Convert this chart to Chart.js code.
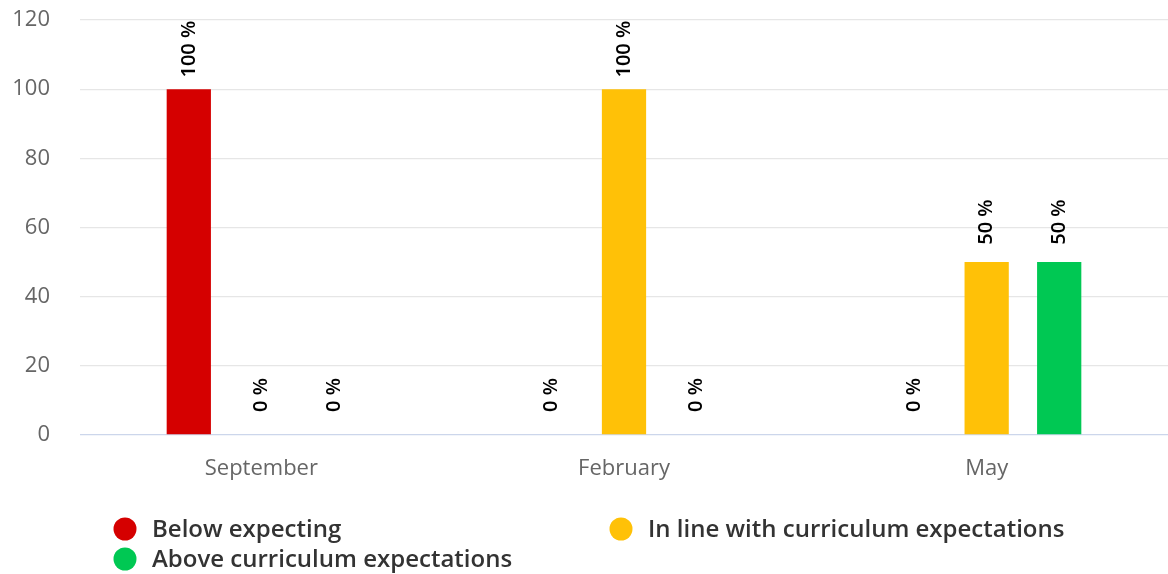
<!DOCTYPE html>
<html>
<head>
<meta charset="utf-8">
<script src="https://cdn.jsdelivr.net/npm/chart.js@4.4.1/dist/chart.umd.min.js"></script>
<style>
  html, body { margin: 0; padding: 0; background: #fff; }
  #wrap { width: 1168px; height: 574px; position: relative; }
</style>
</head>
<body>
<div id="wrap"><canvas id="chart"></canvas></div>
<script>
// chart data
const categories = ["September", "February", "May"];
const seriesNames = ["Below expecting", "In line with curriculum expectations", "Above curriculum expectations"];
const belowValues = [100, 0, 0];
const inLineValues = [0, 100, 50];
const aboveValues = [0, 0, 50];
const yTicks = [0, 20, 40, 60, 80, 100, 120];

const colors = ["#d50000", "#ffc107", "#00c853"];
const FONT = "'Open Sans', 'Noto Sans', sans-serif";

// rotated "NN %" labels above each bar
const barLabels = {
  id: "barLabels",
  afterDatasetsDraw(chart) {
    const ctx = chart.ctx;
    ctx.save();
    ctx.font = "600 20px " + FONT;
    ctx.fillStyle = "#000";
    ctx.textAlign = "center";
    ctx.textBaseline = "middle";
    chart.data.datasets.forEach((ds, i) => {
      chart.getDatasetMeta(i).data.forEach((bar, j) => {
        ctx.save();
        ctx.translate(bar.x, bar.y - 40);
        ctx.rotate(-Math.PI / 2);
        ctx.fillText(ds.data[j] + " %", 0, 0);
        ctx.restore();
      });
    });
    ctx.restore();
  }
};

// two column legend under the plot
const gridLegend = {
  id: "gridLegend",
  afterDraw(chart) {
    const ctx = chart.ctx;
    const spots = [[125, 529], [621, 529], [125, 559]];
    ctx.save();
    ctx.font = "600 24px " + FONT;
    ctx.textBaseline = "middle";
    chart.data.datasets.forEach((ds, i) => {
      const [x, y] = spots[i];
      ctx.fillStyle = ds.backgroundColor;
      ctx.beginPath();
      ctx.arc(x, y, 11.5, 0, Math.PI * 2);
      ctx.fill();
      ctx.fillStyle = "#333";
      ctx.fillText(ds.label, x + 27, y + 1);
    });
    ctx.restore();
  }
};

new Chart(document.getElementById("chart"), {
  type: "bar",
  data: {
    labels: categories,
    datasets: [
      { label: seriesNames[0], data: belowValues, backgroundColor: colors[0] },
      { label: seriesNames[1], data: inLineValues, backgroundColor: colors[1] },
      { label: seriesNames[2], data: aboveValues, backgroundColor: colors[2] }
    ]
  },
  options: {
    responsive: true,
    maintainAspectRatio: false,
    animation: false,
    categoryPercentage: 0.6,
    barPercentage: 0.61,
    layout: { padding: { top: 0, right: 0, bottom: 89, left: 0 } },
    plugins: { legend: { display: false }, tooltip: { enabled: false } },
    scales: {
      x: {
        grid: { display: false },
        border: { display: false },
        ticks: { color: "#666", font: { family: FONT, size: 22 }, padding: 13 },
        afterFit(scale) { scale.height = 50; }
      },
      y: {
        min: 0,
        max: 120,
        afterBuildTicks(scale) { scale.ticks = yTicks.map(v => ({ value: v })); },
        border: { display: false },
        grid: {
          drawTicks: false,
          color: c => (c.tick && c.tick.value === 0 ? "#ccd6eb" : "#e6e6e6"),
          lineWidth: 1.3
        },
        ticks: { color: "#666", font: { family: FONT, size: 22 }, padding: 30 },
        afterFit(scale) {
          scale.width = 80;
          scale.paddingTop = 20;
          scale.paddingBottom = 0;
        }
      }
    }
  },
  plugins: [barLabels, gridLegend]
});
</script>
</body>
</html>
